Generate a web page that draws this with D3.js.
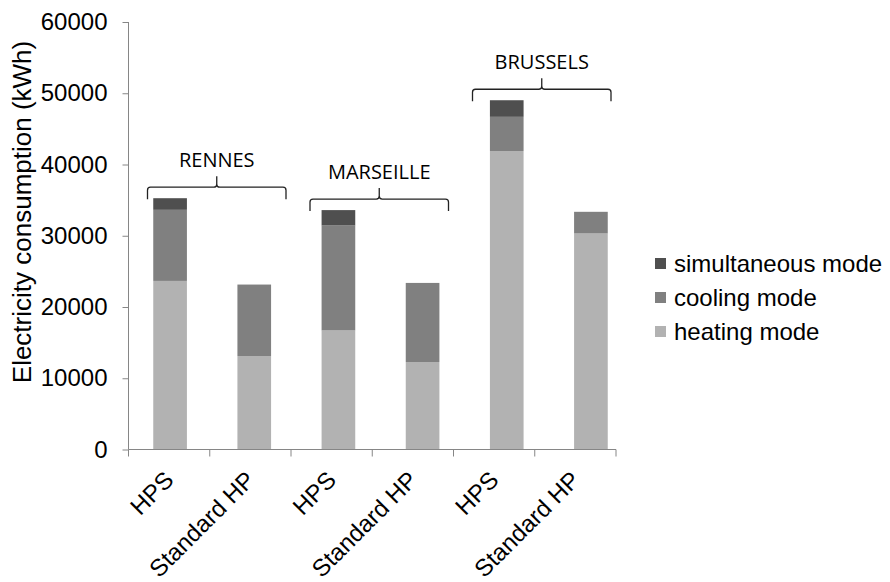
<!doctype html>
<html>
<head>
<meta charset="UTF-8">
<title>Electricity consumption</title>
<script src="https://d3js.org/d3.v7.min.js"></script>
<style>
  body { margin: 0; background: #fff; }
  svg { display: block; }
  text { font-family: "Liberation Sans", Arial, sans-serif; fill: #000; }
</style>
</head>
<body>
<svg id="chart" width="890" height="582"></svg>
<script>
// data
var cities = ["RENNES", "MARSEILLE", "BRUSSELS"];
var systems = ["HPS", "Standard HP"];
var heating      = [23660, 13120, 16710, 12280, 41890, 30320];
var cooling      = [ 9980, 10030, 14730, 11100,  4800,  3040];
var simultaneous = [ 1630,     0,  2160,     0,  2330,     0];
var yTicks = [0, 10000, 20000, 30000, 40000, 50000, 60000];
var seriesNames = ["heating mode", "cooling mode", "simultaneous mode"];
var seriesColors = ["#b2b2b2", "#808080", "#4f4f4f"];

var svg = d3.select("#chart");

// one entry per bar
var rows = [];
cities.forEach(function(c, ci){
  systems.forEach(function(s, si){
    var i = ci * systems.length + si;
    rows.push({id: i, city: c, system: s,
      "heating mode": heating[i],
      "cooling mode": cooling[i],
      "simultaneous mode": simultaneous[i]});
  });
});
var ids = rows.map(function(d){ return d.id; });

var y = d3.scaleLinear().domain([0, 60000]).range([449.5, 22]);
// category axis (ticks between categories)
var xAxisScale = d3.scaleBand().domain(ids).range([128.5, 616]);
// bars sit on a slightly wider spacing in the original
var xBar = d3.scaleBand().domain(ids).range([128, 633])
  .paddingInner(0.6).paddingOuter(0.3);

var stack = d3.stack().keys(seriesNames)(rows);
var color = d3.scaleOrdinal().domain(seriesNames).range(seriesColors);

// bars
svg.append("g").selectAll("g")
  .data(stack).enter().append("g")
  .attr("fill", function(d){ return color(d.key); })
  .selectAll("rect")
  .data(function(d){ return d; }).enter().append("rect")
  .attr("x", function(d){ return xBar(d.data.id); })
  .attr("width", xBar.bandwidth())
  .attr("y", function(d){ return y(d[1]); })
  .attr("height", function(d){ return y(d[0]) - y(d[1]); });

// y axis
var axisColor = "#868686";
var yAxis = svg.append("g").attr("transform", "translate(128.5,0)")
  .call(d3.axisLeft(y).tickValues(yTicks).tickSize(6).tickPadding(15)
    .tickFormat(d3.format("d")));
yAxis.selectAll("path, line").attr("stroke", axisColor);
yAxis.select(".domain").attr("d", "M-0," + y(60000) + "H0V" + y(0));
yAxis.selectAll("text").style("font-size", "24px")
  .style("font-family", "'Liberation Sans', Arial, sans-serif").attr("fill", "#000");

// x axis line + ticks between categories
var xg = svg.append("g");
xg.append("line")
  .attr("x1", 128.5).attr("x2", 616)
  .attr("y1", y(0)).attr("y2", y(0))
  .attr("stroke", axisColor);
var bounds = ids.map(function(d){ return xAxisScale(d); })
  .concat([xAxisScale(ids[ids.length - 1]) + xAxisScale.bandwidth()]);
xg.selectAll("line.tick").data(bounds).enter().append("line")
  .attr("class", "tick")
  .attr("x1", function(d){ return d; }).attr("x2", function(d){ return d; })
  .attr("y1", y(0)).attr("y2", y(0) + 7)
  .attr("stroke", axisColor);
xg.selectAll("text").data(rows).enter().append("text")
  .attr("transform", function(d){
    var cx = xAxisScale(d.id) + xAxisScale.bandwidth() / 2 + 6;
    return "translate(" + cx + "," + (y(0) + 32) + ") rotate(-45)";
  })
  .attr("text-anchor", "end")
  .style("font-size", "24px")
  .text(function(d){ return d.system; });

// y title
svg.append("text")
  .attr("transform", "translate(31,212) rotate(-90)")
  .attr("text-anchor", "middle")
  .style("font-size", "26px")
  .text("Electricity consumption (kWh)");

// city brackets
cities.forEach(function(c, ci){
  var a = ids[ci * 2], b = ids[ci * 2 + 1];
  var x0 = xAxisScale(a) + 19;
  var x1 = xAxisScale(b) + xAxisScale.bandwidth() - 5;
  var cx = (x0 + x1) / 2;
  var top = d3.max(rows.filter(function(r){ return r.city === c; }),
    function(r){ return r["heating mode"] + r["cooling mode"] + r["simultaneous mode"]; });
  var yb = y(top) + 1, yh = yb - 12, yp = yh - 11, r = 3;
  var p = d3.path();
  p.moveTo(x0, yb);
  p.lineTo(x0, yh + r);
  p.quadraticCurveTo(x0, yh, x0 + r, yh);
  p.lineTo(cx - r, yh);
  p.quadraticCurveTo(cx, yh, cx, yh - r);
  p.lineTo(cx, yp);
  p.moveTo(cx, yh - r);
  p.quadraticCurveTo(cx, yh, cx + r, yh);
  p.lineTo(x1 - r, yh);
  p.quadraticCurveTo(x1, yh, x1, yh + r);
  p.lineTo(x1, yb);
  svg.append("path").attr("d", p.toString())
    .attr("fill", "none").attr("stroke", "#222").attr("stroke-width", 1.3);
  svg.append("text")
    .attr("x", cx).attr("y", yh - 20)
    .attr("text-anchor", "middle")
    .style("font-family", "'Open Sans', sans-serif")
    .style("font-size", "20px")
    .text(c);
});

// legend (top entry = last series)
var legendItems = seriesNames.slice().reverse();
var lg = svg.append("g").attr("transform", "translate(655,258)");
var li = lg.selectAll("g").data(legendItems).enter().append("g")
  .attr("transform", function(d, i){ return "translate(0," + (i * 34) + ")"; });
li.append("rect").attr("width", 11).attr("height", 11)
  .attr("fill", function(d){ return color(d); });
li.append("text").attr("x", 19).attr("y", 14)
  .style("font-size", "24px")
  .text(function(d){ return d; });
</script>
</body>
</html>
